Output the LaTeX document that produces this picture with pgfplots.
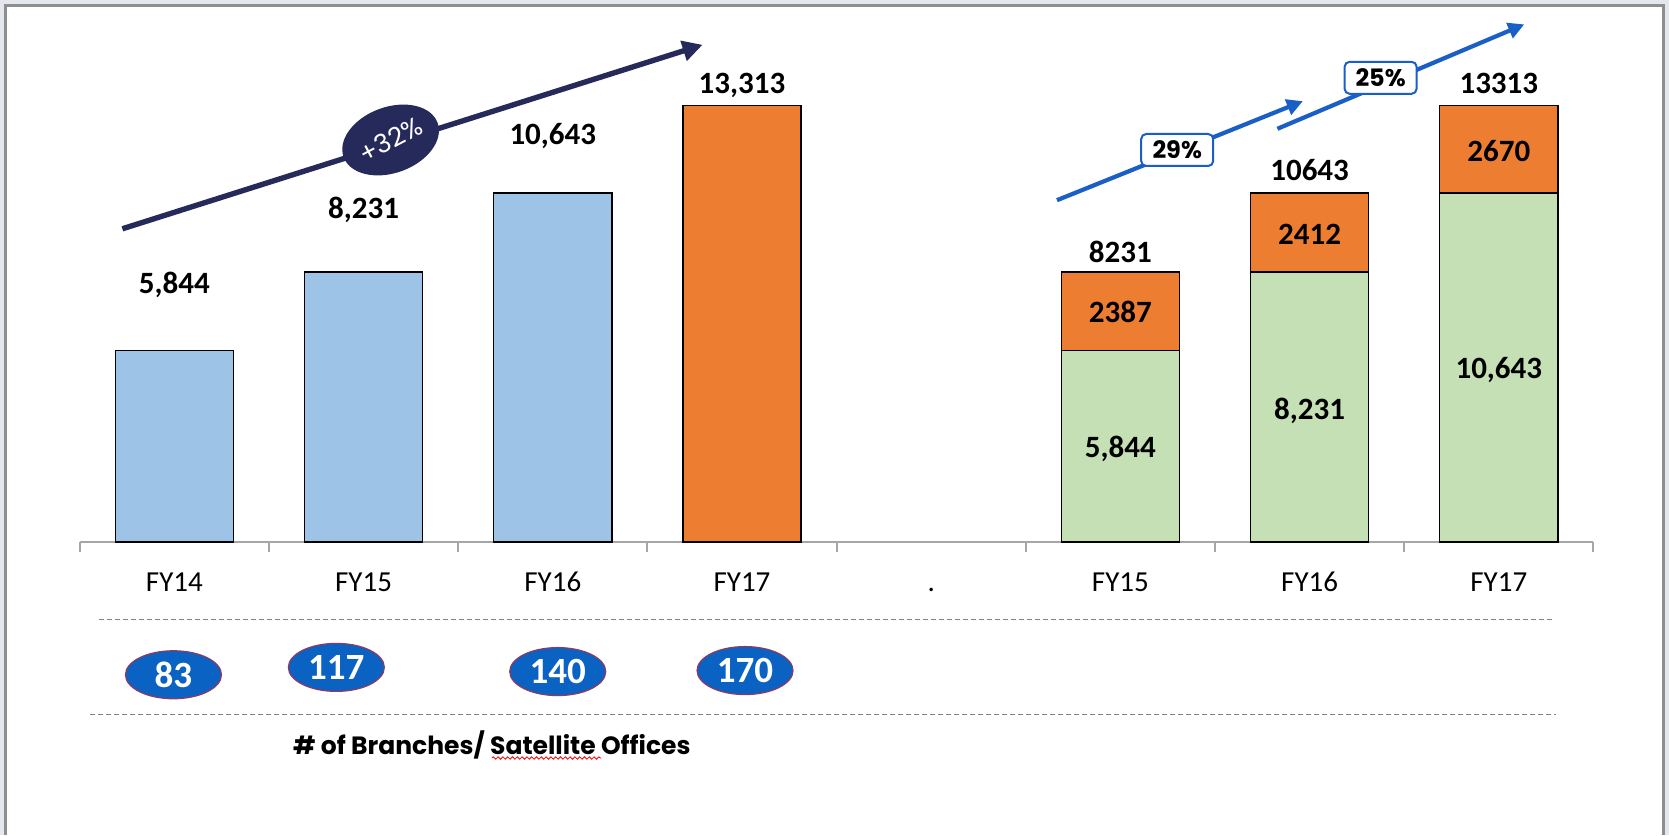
\documentclass[border=0pt]{standalone}
\usepackage{fontspec}
\setmainfont{Carlito}
\newfontfamily\gothic{Poppins}
\usepackage{pgfplots}
\pgfplotsset{compat=1.18}
\usetikzlibrary{shapes.geometric,arrows.meta,decorations.pathmorphing}
\definecolor{barblue}{HTML}{9DC3E6}
\definecolor{barorange}{HTML}{ED7D31}
\definecolor{bargreen}{HTML}{C5E0B4}
\definecolor{navy}{HTML}{262A5A}
\definecolor{arrowblue}{HTML}{1A5FC6}
\definecolor{ellblue}{HTML}{0A62C2}
\definecolor{ellborder}{HTML}{8E3B62}
\definecolor{framegrey}{HTML}{8E8E8E}
\definecolor{outside}{HTML}{E4E7EB}
\definecolor{axisgrey}{HTML}{A6A6A6}
\newcommand\lbl{\bfseries\fontsize{15.5}{17}\selectfont}
\begin{document}
\begin{tikzpicture}
\useasboundingbox (0,0) rectangle (834.5pt,417.5pt);
\fill[outside] (0,0) rectangle (834.5pt,417.5pt);
\fill[white] (2.5pt,0) rectangle (831.5pt,414.5pt);
\draw[framegrey, line width=1.5pt] (2.5pt,0) -- (2.5pt,414.5pt) -- (831.5pt,414.5pt) -- (831.5pt,0);

\begin{axis}[
  at={(39.9pt,146.5pt)}, anchor=south west, scale only axis,
  width=756.8pt, height=245.8pt,
  xmin=-0.5, xmax=7.5, ymin=0, ymax=15000,
  clip=false,
  axis x line=bottom, axis y line=none,
  x axis line style={-, draw=axisgrey, line width=1pt},
  xtick={0,...,7},
  xticklabels={FY14,FY15,FY16,FY17,.,FY15,FY16,FY17},
  major tick length=0pt,
  minor xtick={-0.5,0.5,...,7.5},
  minor tick length=4.8pt,
  tick align=outside,
  tick style={draw=axisgrey, line width=1pt},
  xticklabel style={font=\fontsize{14.5}{16}\selectfont, anchor=base, yshift=-25pt},
]
\addplot[ybar, bar width=59.1pt, bar shift=0pt, fill=barblue, draw=black, line width=0.75pt]
  coordinates {(0,5844) (1,8231) (2,10643)};
\addplot[ybar, bar width=59.1pt, bar shift=0pt, fill=barorange, draw=black, line width=0.75pt]
  coordinates {(3,13313)};
\addplot[only marks, mark=none, nodes near coords, point meta=explicit symbolic,
  nodes near coords style={anchor=center, ellipse, fill=ellblue, draw=ellborder, line width=0.6pt,
    minimum width=48pt, minimum height=24pt, inner sep=0pt, text=white,
    font=\bfseries\fontsize{18.5}{20}\selectfont}]
  coordinates {(-0.005,-4051)[83] (0.856,-3826)[117] (2.026,-3954)[140] (3.016,-3923)[170]};
\node[font=\lbl] at (axis cs:0,7831) {5,844};
\node[font=\lbl] at (axis cs:1,10137) {8,231};
\node[font=\lbl] at (axis cs:2,12379) {10,643};
\node[font=\lbl] at (axis cs:3,13936) {13,313};
\end{axis}

\begin{axis}[
  at={(39.9pt,146.5pt)}, anchor=south west, scale only axis,
  width=756.8pt, height=245.8pt,
  xmin=-0.5, xmax=7.5, ymin=0, ymax=15000,
  clip=false, hide axis, ybar stacked, bar width=59.1pt,
]
\addplot[fill=bargreen, draw=black, line width=0.75pt] coordinates {(5,5844) (6,8231) (7,10643)};
\addplot[fill=barorange, draw=black, line width=0.75pt] coordinates {(5,2387) (6,2412) (7,2670)};
\coordinate (g5) at (axis cs:5,2831);
\coordinate (g6) at (axis cs:6,4000);
\coordinate (g7) at (axis cs:7,5235);
\coordinate (o5) at (axis cs:5,7020);
\coordinate (o6) at (axis cs:6,9390);
\coordinate (o7) at (axis cs:7,11925);
\coordinate (t5) at (axis cs:5,8838);
\coordinate (t6) at (axis cs:6,11340);
\coordinate (t7) at (axis cs:7,14002);
\end{axis}
\node[font=\lbl] at (g5) {5,844};
\node[font=\lbl] at (g6) {8,231};
\node[font=\lbl] at (g7) {10,643};
\node[font=\lbl] at (o5) {2387};
\node[font=\lbl] at (o6) {2412};
\node[font=\lbl] at (o7) {2670};
\node[font=\lbl] at (t5) {8231};
\node[font=\lbl] at (t6) {10643};
\node[font=\lbl] at (t7) {13313};

\draw[gray, line width=0.6pt, dash pattern=on 2.5pt off 1.5pt] (49.5pt,107.75pt) -- (777pt,107.75pt);
\draw[gray, line width=0.6pt, dash pattern=on 2.5pt off 1.5pt] (45.2pt,60.4pt) -- (778pt,60.4pt);

\draw[navy, line width=2.7pt, -{Triangle[length=10pt,width=10pt]}] (61.2pt,303.1pt) -- (351.3pt,395.1pt);
\node[ellipse, fill=navy, minimum width=50pt, minimum height=33pt, inner sep=0pt, rotate=20, text=white,
  font=\gothic\fontsize{13}{14}\selectfont] at (195.3pt,347.5pt) {\rotatebox{8}{+32\%}};

\draw[arrowblue, line width=2.1pt, -{Triangle[length=8pt,width=8pt]}] (528.5pt,317.4pt) -- (651.4pt,366.9pt);
\draw[arrowblue, line width=2.1pt, -{Triangle[length=8pt,width=8pt]}] (638.7pt,353.1pt) -- (762.1pt,405.3pt);
\node[draw=arrowblue, line width=1pt, fill=white, rounded corners=2.5pt, minimum width=36pt, minimum height=16pt,
  inner sep=1pt, font=\gothic\bfseries\fontsize{12}{13}\selectfont] at (588.6pt,342.5pt) {29\%};
\node[draw=arrowblue, line width=1pt, fill=white, rounded corners=2.5pt, minimum width=36pt, minimum height=16pt,
  inner sep=1pt, font=\gothic\bfseries\fontsize{12}{13}\selectfont] at (690.3pt,378.6pt) {25\%};

\node[font=\gothic\bfseries\fontsize{12.5}{14}\selectfont] at (245.9pt,45pt) {\# of Branches/ Satellite Offices};
\draw[red, line width=0.4pt, decorate, decoration={snake, amplitude=0.6pt, segment length=2.4pt}] (245.9pt,38.5pt) -- (300.7pt,38.5pt);
\end{tikzpicture}
\end{document}
